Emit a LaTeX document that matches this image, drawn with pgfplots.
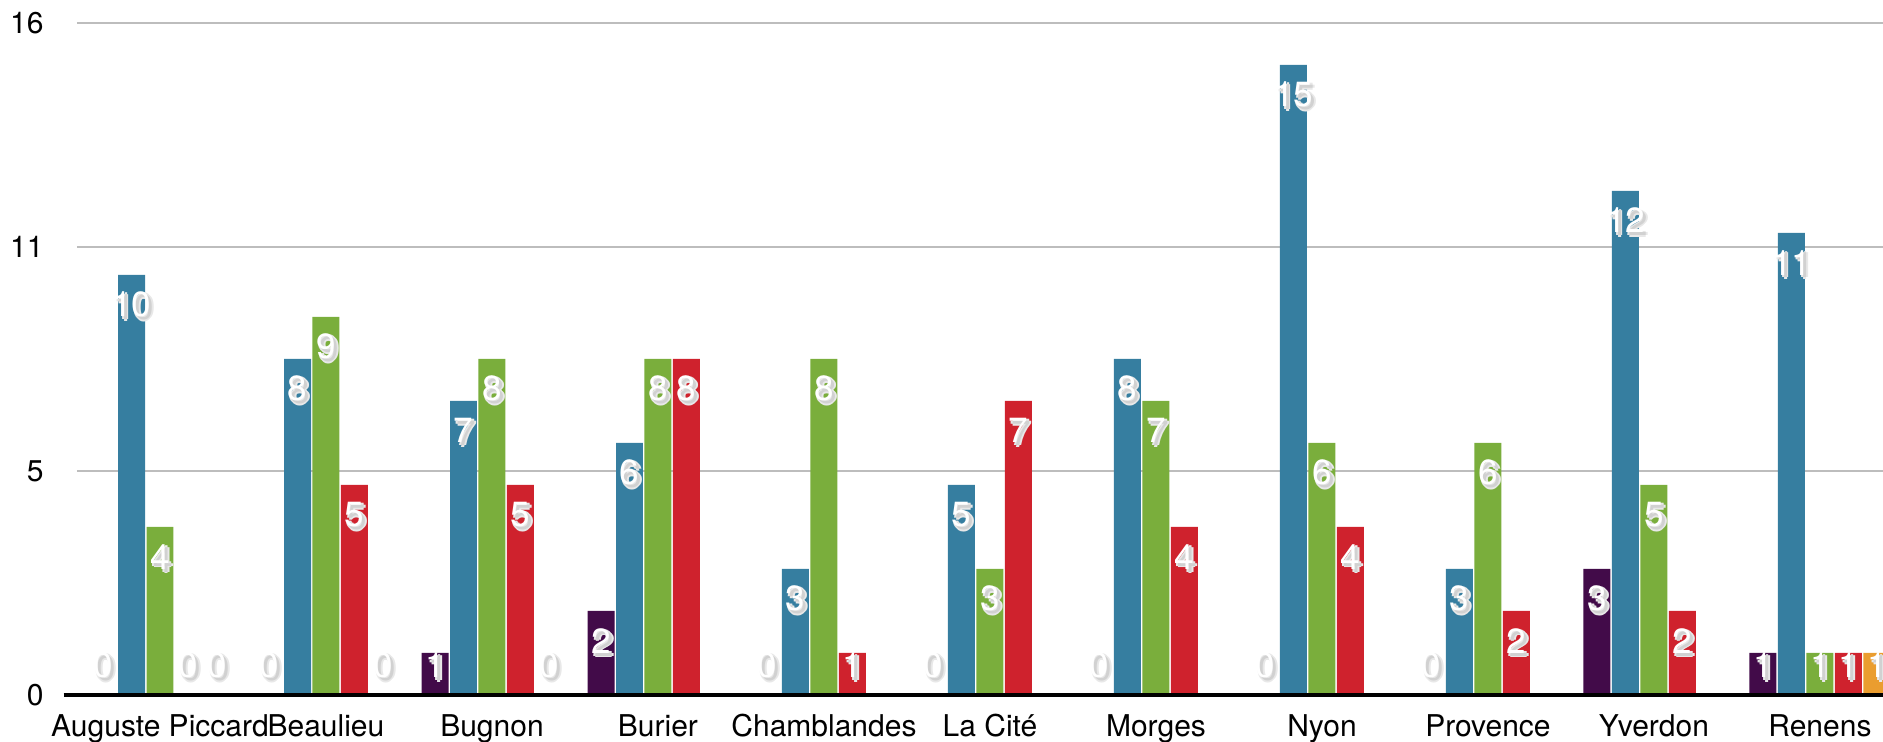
\documentclass[border=0pt]{standalone}
\usepackage{pgfplots}
\pgfplotsset{compat=1.18}
\usepackage{fontspec}
\setmainfont{TeX Gyre Heros}
\definecolor{cpur}{HTML}{420B49}
\definecolor{cblu}{HTML}{367EA0}
\definecolor{cgrn}{HTML}{7AAE3C}
\definecolor{cred}{HTML}{CF222D}
\definecolor{cora}{HTML}{EA9D2F}
\definecolor{cgrid}{HTML}{BDBDBD}
\newcommand\shc[3]{\rlap{\kern#1\raisebox{#2}{\color{black!#3}\pgfplotsshtext}}}
\newcommand\sh[1]{\leavevmode\def\pgfplotsshtext{#1}%
  \shc{0.6pt}{-1.5pt}{9}\shc{2.4pt}{-1.5pt}{9}\shc{1.5pt}{-0.6pt}{9}\shc{1.5pt}{-2.4pt}{9}%
  \shc{1.5pt}{-1.5pt}{18}%
  {\color{white}#1}}
\begin{document}
\begin{tikzpicture}
\begin{axis}[
  scale only axis, width=903pt, height=336pt,
  xmin=-0.5, xmax=10.38, ymin=0, ymax=16,
  ybar, bar width=0.1626,
  /pgf/number format/assume math mode=true,
  axis line style={draw=none},
  major tick length=0pt,
  ytick={0,5.3333,10.6667,16}, yticklabels={0,5,11,16},
  ymajorgrids, grid style={cgrid, line width=1.35pt},
  xtick={0,...,10},
  xticklabels={Auguste Piccard,Beaulieu,Bugnon,Burier,Chamblandes,La Cité,Morges,Nyon,Provence,Yverdon,Renens},
  ticklabel style={font=\fontsize{15}{18}\selectfont},
  xticklabel style={anchor=base, inner sep=0pt, yshift=-21pt},
  yticklabel style={anchor=east, inner sep=0pt, xshift=-16.5pt},
  visualization depends on={rawy \as \rawy},
  nodes near coords={\sh{\pgfmathprintnumber{\pgfplotspointmeta}}},
  nodes near coords style={anchor=center, inner sep=0pt, font=\fontsize{17.5}{20}\selectfont, yshift={max(-16,(0.643-\rawy)*21)}},
]
\addplot[bar shift=-0.3432, fill=cpur, draw=none] coordinates {
 (0,0) (1,0) (2,1) (3,2) (4,0) (5,0) (6,0) (7,0) (8,0) (9,3) (10,1)};
\addplot[bar shift=-0.1716, fill=cblu, draw=none] coordinates {
 (0,10) (1,8) (2,7) (3,6) (4,3) (5,5) (6,8) (7,15) (8,3) (9,12) (10,11)};
\addplot[bar shift=0, fill=cgrn, draw=none] coordinates {
 (0,4) (1,9) (2,8) (3,8) (4,8) (5,3) (6,7) (7,6) (8,6) (9,5) (10,1)};
\addplot[bar shift=0.1716, fill=cred, draw=none] coordinates {
 (0,0) (1,5) (2,5) (3,8) (4,1) (5,7) (6,4) (7,4) (8,2) (9,2) (10,1)};
\addplot[bar shift=0.3432, fill=cora, draw=none] coordinates {
 (0,0) (1,0) (2,0) (10,1)};
\coordinate (sw) at (rel axis cs:0,0);
\coordinate (ne) at (rel axis cs:1,1);
\coordinate (bl) at (axis cs:-0.58,0);
\coordinate (br) at (axis cs:10.38,0);
\end{axis}
\draw[black, line width=1.6pt] (bl) -- (br);
\pgfresetboundingbox
\path[use as bounding box] ([xshift=-38.5pt,yshift=-23.5pt]sw) rectangle ([yshift=11.5pt]ne);
\end{tikzpicture}
\end{document}
